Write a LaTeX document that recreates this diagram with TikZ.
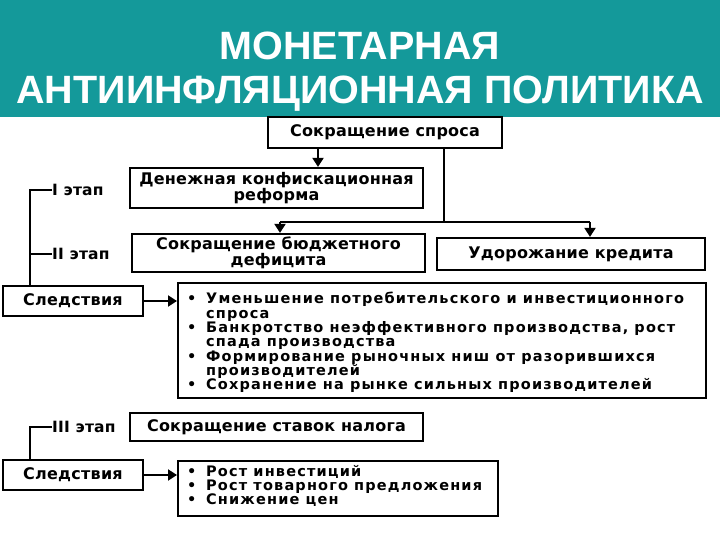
\documentclass[tikz,border=0pt]{standalone}
\usepackage{fontspec}
\setmainfont{Liberation Sans}
\newfontfamily\bx[LetterSpace=1.5]{DejaVu Sans Bold}
\newfontfamily\bxw[LetterSpace=8]{DejaVu Sans Bold}
\usetikzlibrary{arrows.meta}
\definecolor{teal1}{HTML}{14999A}
\begin{document}
\begin{tikzpicture}[x=1pt,y=-1pt,
 bx/.style={draw,line width=2.2pt,inner sep=0pt,align=center,font=\bx\fontsize{16}{15}\selectfont},
 ln/.style={line width=2pt},
 ar/.style={line width=2pt,-{Triangle[length=9pt,width=11pt]}},
 lab/.style={font=\bx\fontsize{15.5}{14}\selectfont,anchor=west,inner sep=0pt},
 bl/.style={font=\bxw\fontsize{14.5}{14}\selectfont,anchor=base west,inner sep=0pt}]
\useasboundingbox (0,0) rectangle (720,540);
\fill[white] (0,0) rectangle (720,540);
\fill[teal1] (0,0) rectangle (720,117);
\node[text=white,font=\bfseries\fontsize{39.5}{44}\selectfont,align=center] (title) at (360,72) {МОНЕТАРНАЯ\\АНТИИНФЛЯЦИОННАЯ ПОЛИТИКА};

\node[bx,minimum width=234pt,minimum height=31pt] (s) at (385,132.5) {Сокращение спроса};
\node[bx,minimum width=293pt,minimum height=40pt] (d) at (276.5,188) {Денежная конфискационная\\реформа};
\node[bx,minimum width=293pt,minimum height=38pt] (b) at (278.5,253) {Сокращение бюджетного\\дефицита};
\node[bx,minimum width=268pt,minimum height=32pt] (u) at (571,254) {Удорожание кредита};
\node[bx,minimum width=140pt,minimum height=30pt] (c1) at (73,301) {Следствия};
\node[bx,minimum width=528pt,minimum height=115pt,anchor=north west] (r1) at (177,282) {};
\foreach \t [count=\i] in {Уменьшение потребительского и инвестиционного,спроса,{Банкротство неэффективного производства, рост},спада производства,Формирование рыночных ниш от разорившихся,производителей,Сохранение на рынке сильных производителей}
  \node[bl] (l\i) at (206,{289.5+14.3*\i}) {\t};
\foreach \i in {1,3,5,7} \node[bl] (p\i) at (187,{289.5+14.3*\i}) {•};
\node[bx,minimum width=293pt,minimum height=28pt] (n) at (276.5,427) {Сокращение ставок налога};
\node[bx,minimum width=140pt,minimum height=30pt] (c2) at (73,475) {Следствия};
\node[bx,minimum width=320pt,minimum height=55pt,anchor=north west] (r2) at (177,460) {};
\foreach \t [count=\i] in {Рост инвестиций,Рост товарного предложения,Снижение цен}{
  \node[bl] (m\i) at (206,{462+14.3*\i}) {\t};
  \node[bl] (q\i) at (187,{462+14.3*\i}) {•};}

\node[lab] (e1) at (52,190) {I этап};
\node[lab] (e2) at (52,254) {II этап};
\node[lab] (e3) at (52,427) {III этап};

\draw[ar] (s.south -| 318,0) -- (d.north -| 318,0);
\coordinate (j) at (444,222);
\draw[ln] (s.south -| j) -- (j);
\draw[ln] (280,222) -- (590,222);
\draw[ar] (280,222) -- (b.north -| 280,0);
\draw[ar] (590,222) -- (u.north -| 590,0);
\draw[ar] (c1.east) -- (c1.east -| r1.west);
\draw[ar] (c2.east) -- (c2.east -| r2.west);
\draw[ln] (e1.west) -- ++(-22,0) coordinate (k1) -- (k1 |- c1.north);
\draw[ln] (e2.west) -- (e2.west -| k1);
\draw[ln] (e3.west) -- ++(-22,0) coordinate (k3) -- (k3 |- c2.north);
\end{tikzpicture}
\end{document}
